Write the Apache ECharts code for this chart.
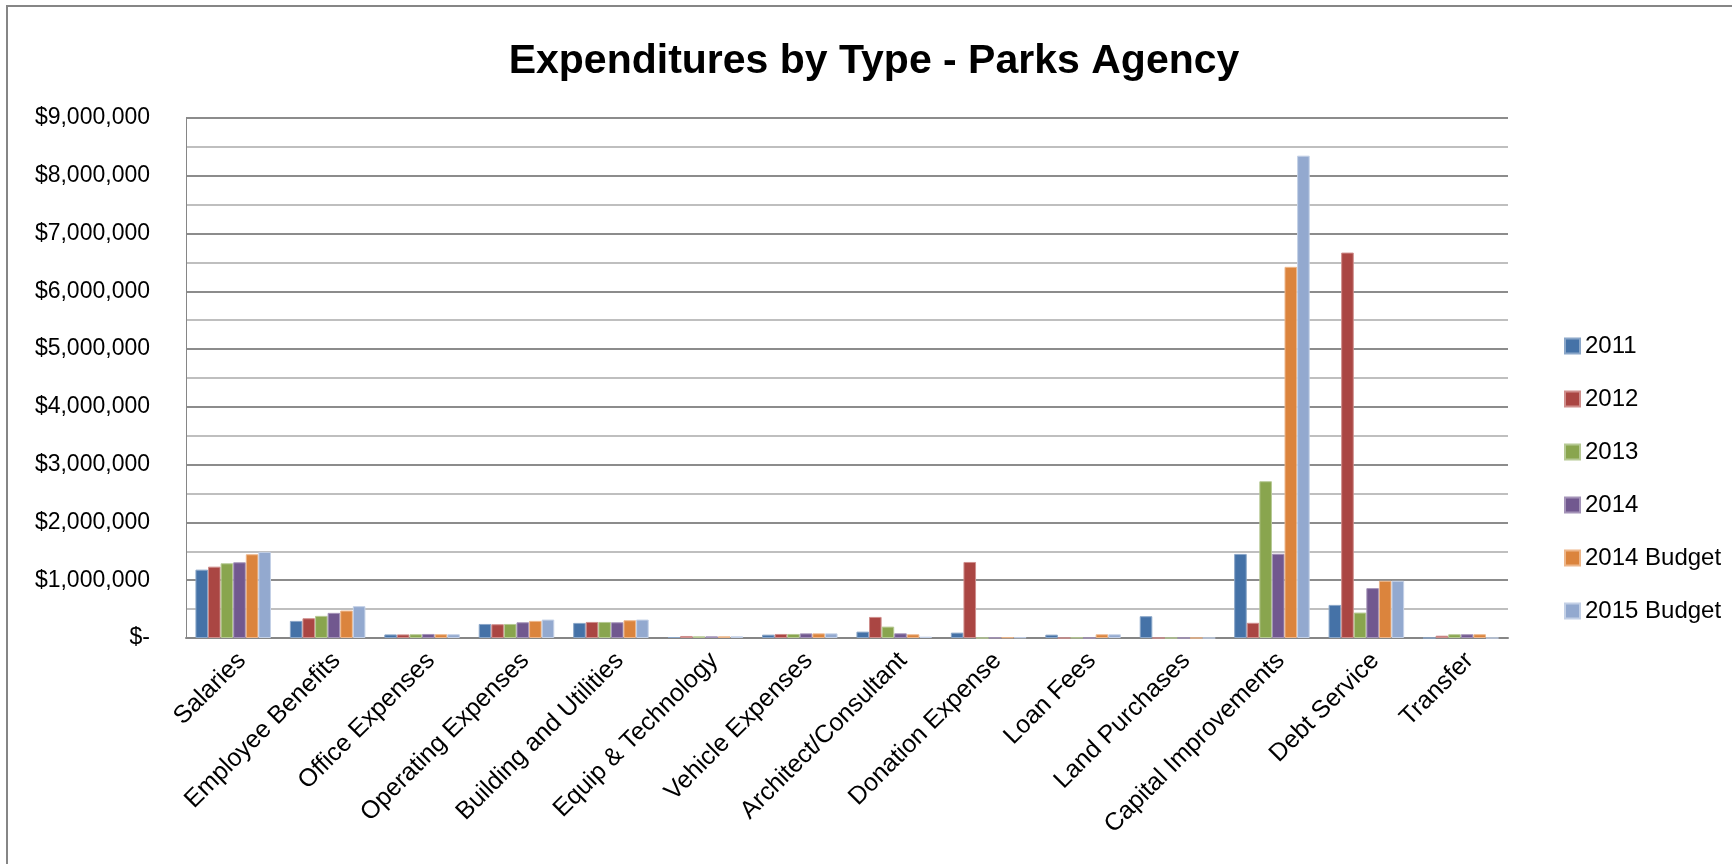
<!DOCTYPE html>
<html>
<head>
<meta charset="utf-8">
<title>Expenditures by Type - Parks Agency</title>
<script src="https://cdn.jsdelivr.net/npm/echarts@6/dist/echarts.min.js"></script>
<style>
  html, body { margin: 0; padding: 0; background: #ffffff; }
  #chart { width: 1732px; height: 864px; }
</style>
</head>
<body>
<div id="chart"></div>
<script>
// Expenditure categories along the x axis
const categories = [
  'Salaries', 'Employee Benefits', 'Office Expenses', 'Operating Expenses',
  'Building and Utilities', 'Equip & Technology', 'Vehicle Expenses',
  'Architect/Consultant', 'Donation Expense', 'Loan Fees', 'Land Purchases',
  'Capital Improvements', 'Debt Service', 'Transfer'
];

// Series names (legend)
const seriesNames = ['2011', '2012', '2013', '2014', '2014 Budget', '2015 Budget'];

// Amounts in dollars, one value per category
const actual2011 = [1183000, 296000, 62000, 243000, 261000, 17000, 58000, 110000, 93000, 58000, 377000, 1455000, 573000, 0];
const actual2012 = [1235000, 342000, 62000, 238000, 278000, 35000, 70000, 365000, 1316000, 0, 0, 263000, 6671000, 40000];
const actual2013 = [1293000, 383000, 65000, 243000, 278000, 29000, 70000, 197000, 0, 5000, 0, 2713000, 440000, 65000];
const actual2014 = [1310000, 435000, 70000, 272000, 272000, 29000, 80000, 81000, 5000, 0, 0, 1458000, 863000, 65000];
const budget2014 = [1449000, 475000, 65000, 296000, 307000, 29000, 80000, 64000, 10000, 64000, 0, 6424000, 990000, 65000];
const budget2015 = [1490000, 551000, 65000, 319000, 319000, 29000, 80000, 23000, 10000, 64000, 0, 8348000, 990000, 0];

// Y axis range
const yMin = 0;
const yMax = 9000000;
const yStep = 1000000;

const seriesData = [actual2011, actual2012, actual2013, actual2014, budget2014, budget2015];
const colors = ['#4572A7', '#AA4643', '#89A54E', '#71588F', '#DB843D', '#93A9CF'];
const edgeColors = ['#8aa6c8', '#cf8e8c', '#b6c994', '#a493b8', '#edb68a', '#c3d0e6'];

const FONT = '"Liberation Sans", Arial, sans-serif';

function money(v) {
  if (v === 0) return '$-';
  return '$' + v.toLocaleString('en-US');
}

const chart = echarts.init(document.getElementById('chart'), null, { renderer: 'canvas' });

chart.setOption({
  backgroundColor: '#ffffff',
  animation: false,
  title: {
    text: 'Expenditures by Type - Parks Agency',
    left: 869,
    textAlign: 'center',
    top: 36,
    textStyle: { fontFamily: FONT, fontSize: 41, fontWeight: 'bold', color: '#000000' }
  },
  graphic: [{
    type: 'rect',
    shape: { x: 7, y: 6, width: 1800, height: 1000 },
    style: { fill: 'none', stroke: '#868686', lineWidth: 2 },
    silent: true
  }],
  legend: {
    orient: 'vertical',
    left: 1559,
    top: 329,
    itemWidth: 15,
    itemHeight: 15,
    itemGap: 29,
    itemTextGap: 8,
    icon: 'rect',
    data: seriesNames,
    textStyle: { fontFamily: FONT, fontSize: 24, color: '#000000', lineHeight: 24 }
  },
  grid: { left: 186, right: 224, top: 118, bottom: 226, containLabel: false },
  xAxis: {
    type: 'category',
    data: categories,
    axisLine: { show: true, lineStyle: { color: '#868686', width: 2 } },
    axisTick: { show: false },
    axisLabel: {
      rotate: 45,
      interval: 0,
      margin: 10,
      verticalAlign: 'top',
      fontFamily: FONT,
      fontSize: 25,
      color: '#000000'
    },
    splitLine: { show: false }
  },
  yAxis: {
    type: 'value',
    min: yMin,
    max: yMax,
    interval: yStep,
    axisLine: { show: true, lineStyle: { color: '#868686', width: 1 } },
    axisTick: { show: false },
    axisLabel: {
      formatter: money,
      margin: 36,
      fontFamily: FONT,
      fontSize: 23,
      color: '#000000'
    },
    splitLine: { show: true, lineStyle: { color: '#8c8c8c', width: 2 } },
    minorTick: { show: false, splitNumber: 2 },
    minorSplitLine: { show: true, lineStyle: { color: '#bfbfbf', width: 2 } }
  },
  series: seriesNames.map((name, i) => ({
    name: name,
    type: 'bar',
    data: seriesData[i],
    barGap: '0%',
    barCategoryGap: '20%',
    itemStyle: { color: colors[i], borderColor: edgeColors[i], borderWidth: 1 }
  }))
});
</script>
</body>
</html>
